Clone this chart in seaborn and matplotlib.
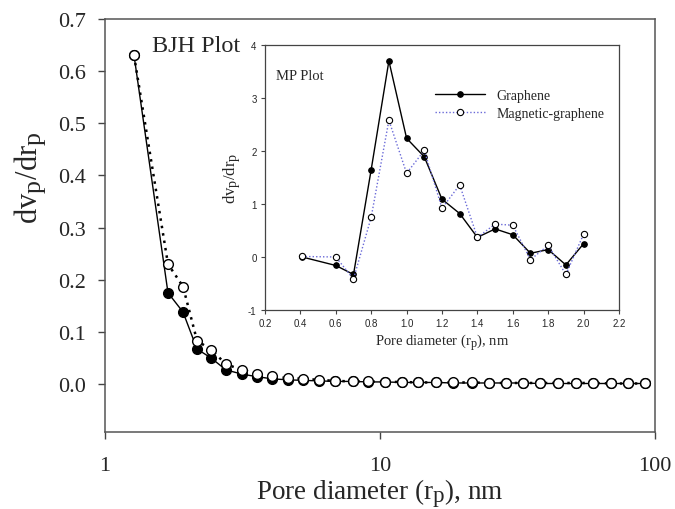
import numpy as np
import pandas as pd
import matplotlib
matplotlib.use("Agg")
import matplotlib.pyplot as plt
import seaborn as sns

try:
    import matplotlib._mathtext as _mt
    _mt.SHRINK_FACTOR = 0.85
except Exception:
    pass

# ---- BJH data (main plot) ----
bjh_x = [1.275, 1.694, 1.921, 2.161, 2.429, 2.754, 3.148, 3.571, 4.05, 4.63, 5.25,
         6.0, 6.86, 7.97, 9.04, 10.4, 12.0, 13.7, 15.98, 18.4, 21.6, 24.9, 28.7,
         33.1, 38.2, 44.4, 51.6, 59.5, 69.2, 79.8, 92.0]
bjh_graphene = [0.63, 0.175, 0.138, 0.067, 0.050, 0.027, 0.019, 0.014, 0.010, 0.008,
                0.007, 0.006, 0.005, 0.005, 0.004, 0.004, 0.003, 0.003, 0.003, 0.002,
                0.002, 0.002, 0.002, 0.002, 0.001, 0.001, 0.001, 0.001, 0.001, 0.001, 0.001]
bjh_magnetic = [0.63, 0.230, 0.187, 0.083, 0.066, 0.038, 0.027, 0.020, 0.015, 0.011,
                0.010, 0.008, 0.006, 0.005, 0.005, 0.004, 0.004, 0.003, 0.003, 0.003,
                0.003, 0.002, 0.002, 0.002, 0.002, 0.002, 0.002, 0.002, 0.001, 0.001, 0.001]

# ---- MP data (inset) ----
mp_x = [0.41, 0.6, 0.7, 0.8, 0.9, 1.0, 1.1, 1.2, 1.3, 1.4, 1.5, 1.6, 1.7, 1.8, 1.9, 2.0]
mp_graphene = [0.0, -0.16, -0.33, 1.65, 3.70, 2.24, 1.89, 1.09, 0.82, 0.37, 0.53,
               0.42, 0.07, 0.14, -0.15, 0.25]
mp_magnetic = [0.01, 0.0, -0.415, 0.75, 2.58, 1.58, 2.01, 0.92, 1.36, 0.37, 0.62,
               0.60, -0.05, 0.22, -0.33, 0.43]

main_yticks = [0.0, 0.1, 0.2, 0.3, 0.4, 0.5, 0.6, 0.7]
main_xticks = [1, 10, 100]
inset_xticks = [0.2, 0.4, 0.6, 0.8, 1.0, 1.2, 1.4, 1.6, 1.8, 2.0, 2.2]
inset_yticks = [-1, 0, 1, 2, 3, 4]

sns.set_style("ticks")
plt.rcParams['font.family'] = ['Liberation Serif', 'DejaVu Serif']
plt.rcParams['mathtext.fontset'] = 'custom'
plt.rcParams['mathtext.rm'] = 'Liberation Serif'
plt.rcParams['mathtext.it'] = 'Liberation Serif'

fig = plt.figure(figsize=(6.75, 5.1), dpi=100)
ax = fig.add_axes([0.1556, 0.151, 0.8148, 0.8098])

sns.lineplot(x=bjh_x, y=bjh_graphene, ax=ax, color='black', lw=1.0, sort=False,
             marker='o', markersize=7, markerfacecolor='black',
             markeredgecolor='black', markeredgewidth=1.0)
sns.lineplot(x=bjh_x, y=bjh_magnetic, ax=ax, color='black', lw=1.8, sort=False,
             linestyle=(0, (1, 2)),
             marker='o', markersize=7, markerfacecolor='white',
             markeredgecolor='black', markeredgewidth=1.0)

ax.set_xscale('log')
ax.set_xlim(1, 100)
ax.set_ylim(-0.092, 0.7)
ax.set_xticks(main_xticks)
ax.set_xticklabels([str(t) for t in main_xticks])
ax.minorticks_off()
ax.set_yticks(main_yticks)
ax.set_yticklabels([f"{t:.1f}" for t in main_yticks])
ax.tick_params(axis='both', labelsize=16, direction='out', length=5, width=1.0,
               color='#444444')
ax.tick_params(axis='x', pad=12)
ax.tick_params(axis='y', pad=9)
for s in ax.spines.values():
    s.set_visible(True)
    s.set_linewidth(1.1)
    s.set_color('#555555')
ax.set_xlabel("Pore diameter (r$_\\mathrm{p}$), nm", fontsize=19.5)
ax.xaxis.set_label_coords(0.5, -0.108)
ax.set_ylabel("dv$_\\mathrm{p}$/dr$_\\mathrm{p}$", fontsize=22)
ax.yaxis.set_label_coords(-0.103, 0.617)
fig.text(152 / 675, 1 - 52 / 510, "BJH Plot", fontsize=17.5, ha='left', va='baseline')

# ---- inset ----
ins = fig.add_axes([0.3926, 0.3902, 0.5244, 0.5196])
ins.set_facecolor('white')
sns.lineplot(x=mp_x, y=mp_graphene, ax=ins, color='black', lw=1.0, sort=False,
             marker='o', markersize=4, markerfacecolor='black',
             markeredgecolor='black', markeredgewidth=0.8, label='Graphene')
sns.lineplot(x=mp_x, y=mp_magnetic, ax=ins, color='#6a6ad8', lw=1.0, sort=False,
             linestyle=(0, (1, 1.5)),
             marker='o', markersize=4.5, markerfacecolor='white',
             markeredgecolor='black', markeredgewidth=0.8, label='Magnetic-graphene')
ins.set_xlim(0.2, 2.2)
ins.set_ylim(-1, 4)
ins.set_xticks(inset_xticks)
ins.set_xticklabels([f"{t:.1f}" for t in inset_xticks], family=['Liberation Sans'])
ins.set_yticks(inset_yticks)
ins.set_yticklabels([str(t) for t in inset_yticks], family=['Liberation Sans'])
ins.tick_params(axis='both', labelsize=7, direction='out', length=3, width=0.8,
                color='#444444', pad=3)
for s in ins.spines.values():
    s.set_visible(True)
    s.set_linewidth(0.9)
    s.set_color('#444444')
ins.set_xlabel("Pore diameter (r$_\\mathrm{p}$), nm", fontsize=10.5, labelpad=2)
ins.set_ylabel("dv$_\\mathrm{p}$/dr$_\\mathrm{p}$", fontsize=12, labelpad=4)
ins.text(0.03, 0.87, "MP Plot", transform=ins.transAxes, fontsize=10.5)
leg = ins.legend(loc='upper left', bbox_to_anchor=(0.48, 0.835), frameon=False,
                 fontsize=10, handlelength=3.6, handletextpad=0.85, labelspacing=0.35,
                 borderpad=0, borderaxespad=0)

fig.savefig("out.png", dpi=100)
